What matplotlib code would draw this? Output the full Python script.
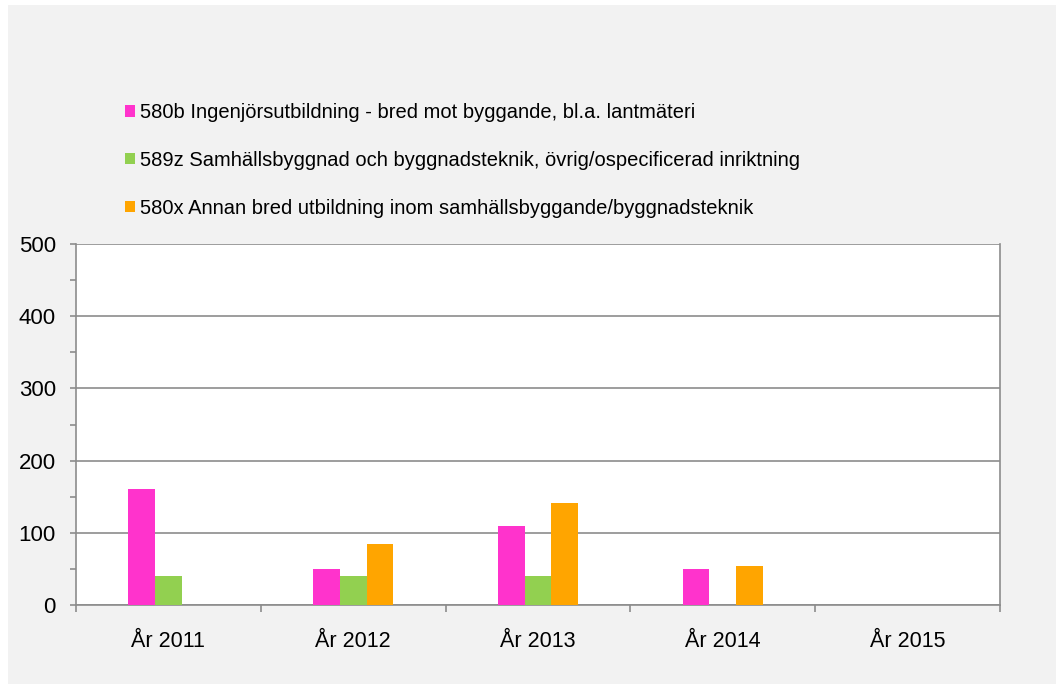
import matplotlib
matplotlib.use('Agg')
import matplotlib.pyplot as plt
from matplotlib.patches import Rectangle
from matplotlib.ticker import MultipleLocator, FixedLocator
import numpy as np

plt.rcParams['font.family'] = ['Liberation Sans', 'DejaVu Sans']

# data
years = ['År 2011', 'År 2012', 'År 2013', 'År 2014', 'År 2015']
series_names = [
    '580b Ingenjörsutbildning - bred mot byggande, bl.a. lantmäteri',
    '589z Samhällsbyggnad och byggnadsteknik, övrig/ospecificerad inriktning',
    '580x Annan bred utbildning inom samhällsbyggande/byggnadsteknik',
]
v_580b = [160, 50, 110, 50, 0]
v_589z = [40, 40, 40, 0, 0]
v_580x = [0, 85, 141, 54, 0]
colors = ['#FF33CC', '#92D050', '#FFA500']

fig = plt.figure(figsize=(10.56, 6.84), dpi=100, facecolor='white')
# grey chart area
bg = Rectangle((8 / 1056, 0), 1, 1 - 5 / 684, transform=fig.transFigure,
               facecolor='#F2F2F2', edgecolor='none', zorder=-10)
fig.add_artist(bg)

ax = fig.add_axes([76 / 1056, 1 - 605 / 684, 924 / 1056, 361 / 684])
ax.set_zorder(1)
ax.set_facecolor('white')

centers = np.arange(len(years)) + 0.5
w = 0.145
for i, (vals, name) in enumerate(zip([v_580b, v_589z, v_580x], series_names)):
    ax.bar(centers + (i - 1) * w, vals, width=w, color=colors[i], label=name, zorder=3)

ax.set_xlim(0, len(years))
ax.set_ylim(0, 500)

grid_col = '#8C8C8C'
ax.yaxis.set_major_locator(MultipleLocator(100))
ax.yaxis.set_minor_locator(MultipleLocator(50))
ax.grid(True, axis='y', which='major', color=grid_col, linewidth=1.2, zorder=1)
for s in ax.spines.values():
    s.set_color(grid_col)
    s.set_linewidth(1.2)
ax.spines['top'].set_visible(False)

ax.xaxis.set_major_locator(FixedLocator(np.arange(len(years) + 1)))
ax.xaxis.set_minor_locator(FixedLocator(centers))
ax.set_xticklabels([], minor=False)
ax.set_xticklabels(years, minor=True)
ax.tick_params(axis='x', which='major', length=5, width=1.2, color=grid_col, direction='out')
ax.tick_params(axis='x', which='minor', length=0, pad=19, labelsize=15.5)
ax.tick_params(axis='y', which='both', length=4.5, width=1.2, color=grid_col, direction='out',
               labelsize=16, pad=10)

ax.legend(loc='upper left', bbox_to_anchor=(125 / 1056, 1 - 103 / 684),
          bbox_transform=fig.transFigure, frameon=False, fontsize=14.5,
          handlelength=0.5, handleheight=0.5, handletextpad=0.25,
          labelspacing=1.43, borderpad=0, borderaxespad=0)

fig.savefig('out.png', dpi=100, facecolor=fig.get_facecolor())
